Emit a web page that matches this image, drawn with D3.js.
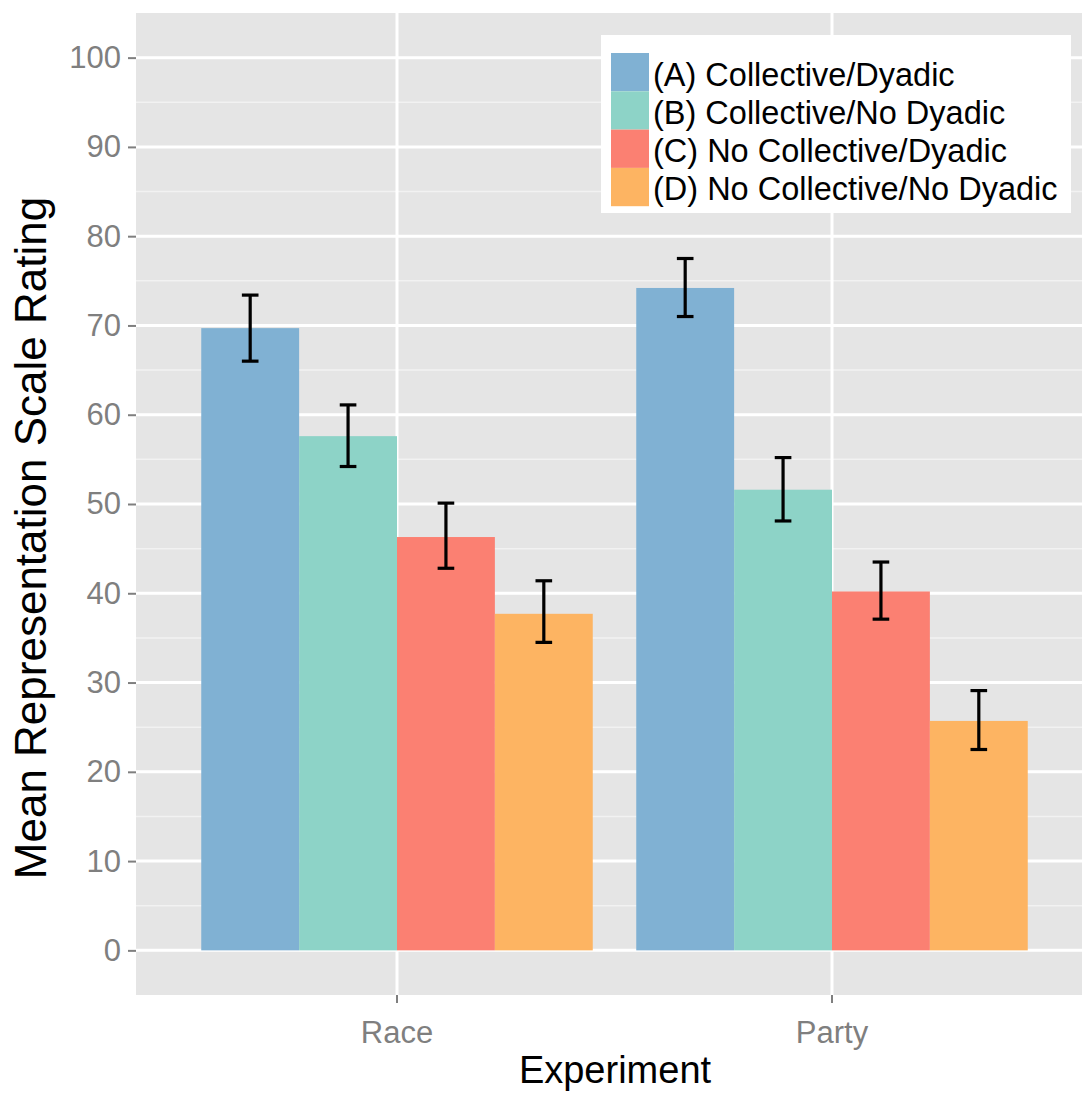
<!DOCTYPE html>
<html>
<head>
<meta charset="utf-8">
<script src="https://cdn.jsdelivr.net/npm/d3@7"></script>
<style>
    body { margin: 0; background: #FFFFFF; }
    text { font-family: "Liberation Sans", Arial, sans-serif; }
</style>
</head>
<body>
<script>
// experiments on the x axis
var experiments = ["Race", "Party"];

// the four conditions (legend order)
var conditions = [
    "(A) Collective/Dyadic",
    "(B) Collective/No Dyadic",
    "(C) No Collective/Dyadic",
    "(D) No Collective/No Dyadic"
];

// mean rating per condition, one array per experiment
var raceMeans = [69.7, 57.6, 46.3, 37.7];
var partyMeans = [74.2, 51.6, 40.2, 25.7];

// error bar ends
var raceLow = [66.0, 54.2, 42.8, 34.5];
var raceHigh = [73.4, 61.1, 50.1, 41.4];
var partyLow = [71.0, 48.1, 37.1, 22.5];
var partyHigh = [77.5, 55.2, 43.5, 29.1];

var yTicks = [0, 10, 20, 30, 40, 50, 60, 70, 80, 90, 100];
var yMinor = [5, 15, 25, 35, 45, 55, 65, 75, 85, 95];

var colors = ["#80B1D3", "#8DD3C7", "#FB8072", "#FDB462"];

// build rows from the arrays above
var rows = [];
conditions.forEach(function(c, i){
    rows.push({experiment: "Race", condition: c, mean: raceMeans[i], low: raceLow[i], high: raceHigh[i]});
    rows.push({experiment: "Party", condition: c, mean: partyMeans[i], low: partyLow[i], high: partyHigh[i]});
});

window.onload = function(){
    var width = 1082, height = 1093;
    var panel = {left: 136, right: 1093, top: 13, bottom: 995};

    var svg = d3.select("body")
        .append("svg")
        .attr("width", width)
        .attr("height", height);

    var y = d3.scaleLinear()
        .domain([-5, 105])
        .range([panel.bottom, panel.top]);

    var x = d3.scaleBand()
        .domain(experiments)
        .range([panel.left, panel.right])
        .paddingInner(0.1)
        .paddingOuter(0.15);

    var xSub = d3.scaleBand()
        .domain(conditions)
        .range([0, x.bandwidth()]);

    var color = d3.scaleOrdinal()
        .domain(conditions)
        .range(colors);

    //grey panel background
    svg.append("rect")
        .attr("x", panel.left)
        .attr("y", panel.top)
        .attr("width", panel.right - panel.left)
        .attr("height", panel.bottom - panel.top)
        .style("fill", "#E5E5E5");

    //minor grid lines
    svg.selectAll(".minor")
        .data(yMinor)
        .enter()
        .append("line")
        .attr("class", "minor")
        .attr("x1", panel.left)
        .attr("x2", panel.right)
        .attr("y1", function(d){ return y(d); })
        .attr("y2", function(d){ return y(d); })
        .style("stroke", "#F2F2F2")
        .style("stroke-width", 1.5);

    //major grid lines
    svg.selectAll(".major")
        .data(yTicks)
        .enter()
        .append("line")
        .attr("class", "major")
        .attr("x1", panel.left)
        .attr("x2", panel.right)
        .attr("y1", function(d){ return y(d); })
        .attr("y2", function(d){ return y(d); })
        .style("stroke", "#FFFFFF")
        .style("stroke-width", 3);

    svg.selectAll(".vgrid")
        .data(experiments)
        .enter()
        .append("line")
        .attr("class", "vgrid")
        .attr("x1", function(d){ return x(d) + x.bandwidth() / 2; })
        .attr("x2", function(d){ return x(d) + x.bandwidth() / 2; })
        .attr("y1", panel.top)
        .attr("y2", panel.bottom)
        .style("stroke", "#FFFFFF")
        .style("stroke-width", 3);

    //bars
    svg.selectAll(".bar")
        .data(rows)
        .enter()
        .append("rect")
        .attr("class", "bar")
        .attr("x", function(d){ return x(d.experiment) + xSub(d.condition); })
        .attr("width", xSub.bandwidth())
        .attr("y", function(d){ return y(d.mean); })
        .attr("height", function(d){ return y(0) - y(d.mean); })
        .style("fill", function(d){ return color(d.condition); });

    //error bars
    var capHalf = xSub.bandwidth() * 0.085;
    var err = svg.selectAll(".err")
        .data(rows)
        .enter()
        .append("g")
        .attr("class", "err")
        .attr("transform", function(d){
            return "translate(" + (x(d.experiment) + xSub(d.condition) + xSub.bandwidth() / 2) + ",0)";
        })
        .style("stroke", "#000000")
        .style("stroke-width", 3.2);
    err.append("line")
        .attr("y1", function(d){ return y(d.low); })
        .attr("y2", function(d){ return y(d.high); });
    err.append("line")
        .attr("x1", -capHalf).attr("x2", capHalf)
        .attr("y1", function(d){ return y(d.low); })
        .attr("y2", function(d){ return y(d.low); });
    err.append("line")
        .attr("x1", -capHalf).attr("x2", capHalf)
        .attr("y1", function(d){ return y(d.high); })
        .attr("y2", function(d){ return y(d.high); });

    //axes
    var yAxis = svg.append("g")
        .attr("transform", "translate(" + panel.left + ",0)")
        .call(d3.axisLeft(y).tickValues(yTicks).tickSize(8).tickPadding(7));
    var xAxis = svg.append("g")
        .attr("transform", "translate(0," + panel.bottom + ")")
        .call(d3.axisBottom(x).tickSize(8).tickPadding(18));

    [yAxis, xAxis].forEach(function(a){
        a.select(".domain").remove();
        a.selectAll(".tick line").style("stroke", "#7F7F7F").style("stroke-width", 2);
        a.selectAll(".tick text")
            .style("fill", "#7F7F7F")
            .style("font-size", "31px")
            .style("font-family", "'Liberation Sans', Arial, sans-serif");
    });

    //axis titles
    svg.append("text")
        .attr("text-anchor", "middle")
        .attr("x", 615)
        .attr("y", 1083)
        .style("font-size", "38px")
        .style("fill", "#000000")
        .text("Experiment");

    svg.append("text")
        .attr("text-anchor", "middle")
        .attr("transform", "translate(46,538) rotate(-90)")
        .style("font-size", "44px")
        .style("fill", "#000000")
        .text("Mean Representation Scale Rating");

    //legend
    var legend = svg.append("g")
        .attr("transform", "translate(601,35)");
    legend.append("rect")
        .attr("width", 470)
        .attr("height", 178)
        .style("fill", "#FFFFFF");
    var keyH = 38.3;
    var items = legend.selectAll(".item")
        .data(conditions)
        .enter()
        .append("g")
        .attr("class", "item")
        .attr("transform", function(d, i){ return "translate(10," + (18 + i * keyH) + ")"; });
    items.append("rect")
        .attr("width", 38)
        .attr("height", keyH)
        .style("fill", function(d){ return color(d); });
    items.append("text")
        .attr("x", 42)
        .attr("y", keyH / 2 + 2)
        .attr("dy", "0.35em")
        .style("font-size", "32.5px")
        .style("fill", "#000000")
        .text(function(d){ return d; });
}
</script>
</body>
</html>
